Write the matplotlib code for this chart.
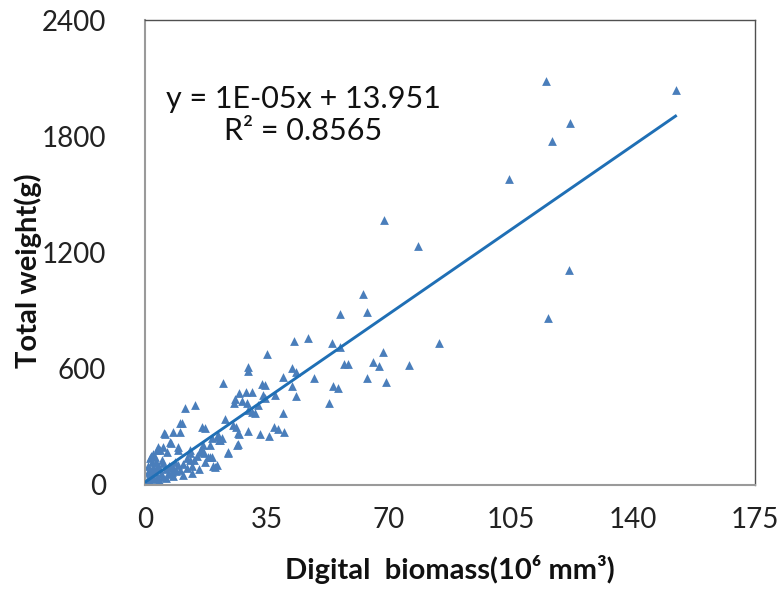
import numpy as np
import matplotlib
matplotlib.use('Agg')
import matplotlib.pyplot as plt

plt.rcParams['font.family'] = ['Lato', 'DejaVu Sans']

# Digital biomass (10^6 mm^3) and total weight (g)
biomass = [
    115.0, 152.2, 121.9, 116.8, 104.4, 68.6, 78.2, 121.6, 62.5, 115.5,
    55.9, 63.7, 46.8, 53.6, 55.9, 84.3, 68.3, 57.1, 58.2, 65.4,
    67.1, 75.7, 48.5, 63.7, 69.1, 53.9, 55.4, 42.8, 42.1, 43.3,
    42.1, 43.3, 52.8, 35.1, 29.6, 29.6, 22.5, 39.7, 33.5, 34.4,
    37.3, 27.0, 28.9, 30.8, 25.8, 27.7, 34.4, 22.9, 31.6, 39.7,
    26.0, 27.0, 29.6, 33.0, 35.6, 37.1, 38.2, 39.9, 21.5, 20.6,
    26.6, 23.9, 20.1, 10.5, 16.3, 8.1, 10.0, 5.5, 7.4, 9.6,
    12.9, 16.7, 19.1, 6.2, 4.3, 20.6, 33.9, 25.5, 29.2, 11.5,
    14.3, 32.5, 30.6, 29.6, 10.0, 5.7, 17.2, 26.8, 25.3, 21.0,
    19.1, 7.2, 3.8, 5.2, 3.4, 9.6, 12.9, 15.8, 18.6, 21.2,
    22.0, 23.9, 26.3, 18.6, 17.2, 18.1, 12.9, 12.0, 19.6, 1.4,
    2.4, 5.2, 7.7, 10.0, 11.0, 1.4, 3.4, 5.2, 0.5, 1.4,
    0.2, 0.4, 0.6, 0.8, 1.0, 1.2, 1.5, 1.8, 2.0, 2.0,
    2.2, 2.6, 3.0, 3.0, 3.6, 4.0, 4.5, 4.8, 6.0, 6.5,
    6.8, 7.5, 8.0, 8.5, 9.0, 9.5, 11.0, 12.0, 13.5, 14.0,
    15.0, 16.0, 17.0, 2.2, 1.0, 1.8, 3.3, 0.9, 2.6, 4.0,
    6.0, 8.0, 13.5, 15.5,
]
weight = [
    2085, 2039, 1868, 1776, 1579, 1368, 1234, 1110, 987, 863,
    883, 893, 759, 733, 712, 733, 686, 625, 625, 635,
    614, 619, 552, 552, 532, 511, 501, 745, 602, 582,
    512, 459, 425, 676, 607, 590, 525, 559, 520, 516,
    465, 473, 482, 482, 444, 435, 447, 339, 373, 373,
    298, 263, 280, 263, 254, 298, 287, 272, 232, 249,
    212, 167, 93, 322, 298, 275, 275, 267, 215, 181,
    164, 206, 146, 172, 181, 103, 464, 422, 422, 396,
    413, 413, 378, 387, 318, 263, 293, 270, 310, 258,
    241, 223, 198, 198, 181, 198, 181, 172, 206, 232,
    241, 172, 206, 146, 120, 146, 129, 86, 98, 138,
    94, 112, 69, 77, 52, 43, 35, 43, 9, 5,
    4, 12, 20, 8, 30, 18, 60, 45, 52, 120,
    75, 82, 65, 145, 100, 90, 56, 130, 80, 58,
    100, 95, 88, 120, 70, 105, 110, 140, 100, 130,
    150, 185, 165, 160, 100, 150, 120, 65, 30, 25,
    35, 45, 60, 80,
]

# linear trendline as drawn (slope per 10^6 mm^3)
trend_slope = 12.42
trend_intercept = 13.951

x_ticks = [0, 35, 70, 105, 140, 175]
y_ticks = [0, 600, 1200, 1800, 2400]

fig = plt.figure(figsize=(7.79, 5.90), dpi=100)
ax = fig.add_axes([0.1861, 0.178, 0.7831, 0.788])

ax.scatter(biomass, weight, marker='^', s=40, color='#4a7ebb', linewidths=0, zorder=2)

xs = np.array([min(biomass), max(biomass)])
ax.plot(xs, trend_slope * xs + trend_intercept, color='#1f6fb5', lw=2.1, zorder=3)

ax.set_xlim(0, 175)
ax.set_ylim(0, 2400)
ax.set_xticks(x_ticks)
ax.set_yticks(y_ticks)
ax.tick_params(axis='both', length=0, labelsize=20, colors='#222222')
ax.tick_params(axis='y', pad=28)
ax.tick_params(axis='x', pad=16)

for side in ['left', 'bottom']:
    ax.spines[side].set_color('#9a9a9a')
    ax.spines[side].set_linewidth(1.5)
for side in ['top', 'right']:
    ax.spines[side].set_color('#505050')
    ax.spines[side].set_linewidth(1.0)

ax.text(0.259, 0.796, 'y = 1E-05x + 13.951\nR² = 0.8565', transform=ax.transAxes,
        ha='center', va='center', fontsize=22, linespacing=1.2, color='#111111')

fig.text(0.036, 0.541, 'Total weight(g)', rotation=90, ha='center', va='center',
         fontsize=21, fontweight='bold', color='#111111')
fig.text(0.578, 0.034, 'Digital  biomass(10⁶ mm³)', ha='center', va='center',
         fontsize=21, fontweight='bold', color='#111111')

fig.savefig('out.png', dpi=100)
